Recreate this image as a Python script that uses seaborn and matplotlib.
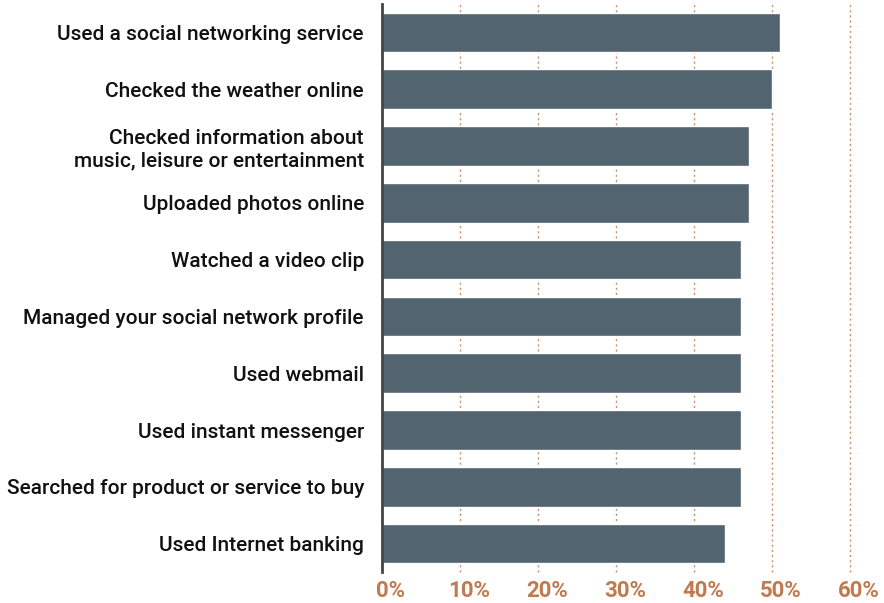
import matplotlib
matplotlib.use("Agg")
import matplotlib.pyplot as plt
import matplotlib.transforms as mtransforms
import seaborn as sns
import pandas as pd

activities = [
    "Used a social networking service",
    "Checked the weather online",
    "Checked information about\nmusic, leisure or entertainment",
    "Uploaded photos online",
    "Watched a video clip",
    "Managed your social network profile",
    "Used webmail",
    "Used instant messenger",
    "Searched for product or service to buy",
    "Used Internet banking",
]
shares = [51, 50, 47, 47, 46, 46, 46, 46, 46, 44]
x_ticks = [0, 10, 20, 30, 40, 50, 60]

bar_color = "#52646f"
accent = "#c07a4e"

sns.set_style("white")
plt.rcParams["font.family"] = ["Roboto", "DejaVu Sans"]

df = pd.DataFrame({"activity": activities, "share": shares})

fig = plt.figure(figsize=(8.84, 6.03), dpi=100)
ax = fig.add_axes([382 / 884, 1 - 572 / 603, (850 - 382) / 884, 568 / 603])

sns.barplot(data=df, x="share", y="activity", color=bar_color,
            saturation=1, width=0.7, ax=ax, zorder=3)

ax.set_xlim(0, 60)
ax.set_xticks(x_ticks)
ax.set_xticklabels([f"{t}%" for t in x_ticks], fontsize=16,
                   fontweight="bold", color=accent)
ax.set_yticks(range(len(activities)))
ax.set_yticklabels(activities, fontsize=15, fontweight="medium",
                   color="#111111")
ax.tick_params(axis="y", length=0, pad=13)
ax.tick_params(axis="x", length=0, pad=6)
ax.set_xlabel("")
ax.set_ylabel("")

# tick labels sit a little to the right of their gridlines in the original
shift = mtransforms.ScaledTranslation(9 / 100, 0, fig.dpi_scale_trans)
for lab in ax.get_xticklabels():
    lab.set_transform(lab.get_transform() + shift)

for t in x_ticks[1:]:
    ax.axvline(t, color=accent, linestyle=(0, (1.5, 2.2)), linewidth=1.0,
               alpha=0.85, zorder=1, clip_on=False)

for side in ["top", "right", "bottom"]:
    ax.spines[side].set_visible(False)
ax.spines["left"].set_color("#444444")
ax.spines["left"].set_linewidth(2)
ax.spines["left"].set_zorder(4)

fig.savefig("out.png", dpi=100)
